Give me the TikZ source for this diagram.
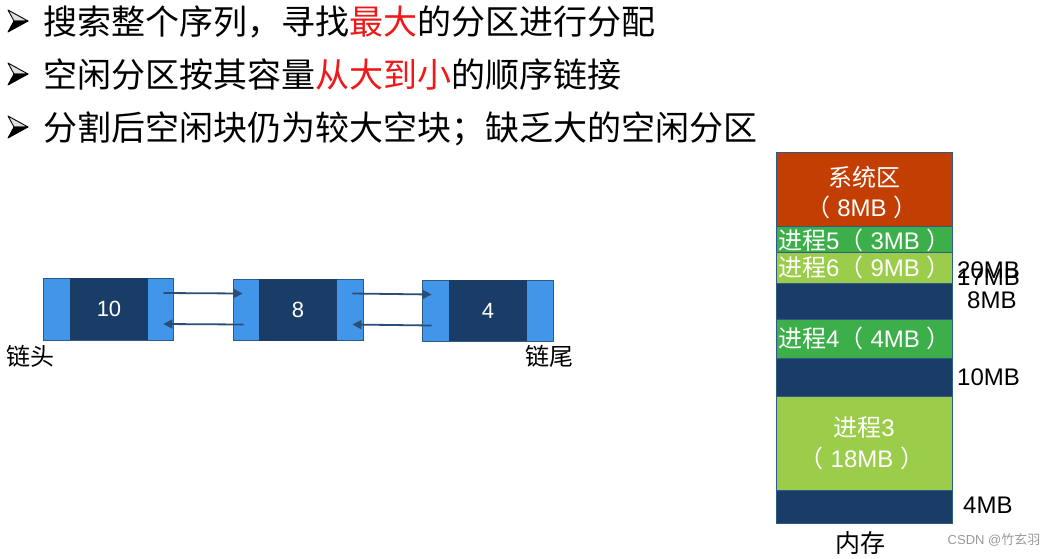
\documentclass[tikz,border=0pt]{standalone}
\usepackage{fontspec}
\setmainfont{Liberation Sans}
\newfontfamily\cjk{Noto Sans CJK SC}
\usetikzlibrary{arrows.meta,calc}
\definecolor{hired}{HTML}{F01818}
\definecolor{lblue}{HTML}{4196EA}
\definecolor{dblue}{HTML}{1A3D68}
\definecolor{bordc}{HTML}{2E5A86}
\definecolor{arrc}{HTML}{2B4E77}
\definecolor{sysred}{HTML}{C23E02}
\definecolor{pgreen}{HTML}{3CAF4A}
\definecolor{lgreen}{HTML}{9BCD4B}
\definecolor{wmgray}{HTML}{9A9A9A}
\newcommand{\lpar}{{\cjk （}\hspace{7pt}}
\newcommand{\rpar}{\hspace{7pt}{\cjk ）}}
\begin{document}
\begin{tikzpicture}[x=1pt,y=-1pt,
  bullettext/.style={font=\cjk\fontsize{34}{40}\selectfont, anchor=base west, inner sep=0pt},
  lbox/.style={draw=bordc, line width=0.8pt, fill=lblue, inner sep=0pt},
  dbox/.style={fill=dblue, inner sep=0pt, text=white, font=\fontsize{22}{26}\selectfont},
  link/.style={draw=arrc, line width=1.8pt, -{Triangle[length=9pt,width=9pt]}},
  chainlabel/.style={font=\cjk\fontsize{24}{28}\selectfont, inner sep=0pt, anchor=west},
  memblk/.style={draw=bordc, line width=0.6pt, inner sep=0pt, anchor=north west},
  memtext/.style={text=white, inner sep=0pt, font=\fontsize{24}{30}\selectfont},
  sizelabel/.style={inner sep=0pt, anchor=west, font=\fontsize{24}{28}\selectfont},
  bulup/.style={fill=black!12, draw=black, line width=0.9pt, line join=round},
  buldown/.style={fill=black, draw=black, line width=0.9pt, line join=round},
]
\useasboundingbox (0,0) rectangle (1059,558);
\fill[white] (0,0) rectangle (1059,558);

% bullets (3-D arrowheads)
\foreach \cy [count=\i] in {21,74,127}{
  \coordinate (bt\i) at (28,\cy);
  \coordinate (bn\i) at (14,\cy);
  \coordinate (bu\i) at (8,\cy-11);
  \coordinate (bd\i) at (8,\cy+11);
  \path[bulup] (bu\i) -- (bt\i) -- (bn\i) -- cycle;
  \path[buldown] (bn\i) -- (bt\i) -- (bd\i) -- cycle;
}
\node[bullettext] (l1) at (43,34.5) {搜索整个序列，寻找\textcolor{hired}{最大}的分区进行分配};
\node[bullettext] (l2) at (43,87.5) {空闲分区按其容量\textcolor{hired}{从大到小}的顺序链接};
\node[bullettext] (l3) at (43,140.5) {分割后空闲块仍为较大空块；缺乏大的空闲分区};

% linked list
\node[lbox, minimum width=130pt, minimum height=62pt] (b1) at (108,309) {};
\node[dbox, minimum width=78pt, minimum height=62pt] (d1) at (109,309) {10};
\node[lbox, minimum width=130pt, minimum height=61pt] (b2) at (298,309.5) {};
\node[dbox, minimum width=78pt, minimum height=62pt] (d2) at (298,310) {8};
\node[lbox, minimum width=131pt, minimum height=61pt] (b3) at (487.5,310.5) {};
\node[dbox, minimum width=78pt, minimum height=61pt] (d3) at (488,310.5) {4};

\draw[link] ([xshift=-10pt,yshift=16pt]b1.east) -- ([xshift=10pt,yshift=16pt]b2.west);
\draw[link] ([xshift=11pt,yshift=-15pt]b2.west) -- ([xshift=-10pt,yshift=-15pt]b1.east);
\draw[link] ([xshift=-11pt,yshift=16pt]b2.east) -- ([xshift=10pt,yshift=16pt]b3.west);
\draw[link] ([xshift=10pt,yshift=-15pt]b3.west) -- ([xshift=-11pt,yshift=-15pt]b2.east);

\node[chainlabel] (head) at (6,356) {链头};
\node[chainlabel] (tail) at (525,356) {链尾};

% memory column
\node[memblk, fill=dblue, minimum width=176pt, minimum height=371pt] (mem) at (776,152) {};
\node[memblk, fill=sysred, minimum width=176pt, minimum height=74pt] (sys) at (776,152) {};
\node[memblk, fill=pgreen, minimum width=176pt, minimum height=26pt] (p5) at (776,226) {};
\node[memblk, fill=lgreen, minimum width=176pt, minimum height=31pt] (p6) at (776,252) {};
\node[memblk, fill=pgreen, minimum width=176pt, minimum height=39pt] (p4) at (776,319) {};
\node[memblk, fill=lgreen, minimum width=176pt, minimum height=94pt] (p3) at (776,396) {};

\node[memtext] (syst1) at (864,177) {\cjk 系统区};
\node[memtext] (syst2) at (862,207) {\lpar 8MB\rpar};
\node[memtext, anchor=west] (p5t) at (778,240) {{\cjk 进程}5\lpar 3MB\rpar};
\node[memtext, anchor=west] (p6t) at (778,267) {{\cjk 进程}6\lpar 9MB\rpar};
\node[memtext, anchor=west] (p4t) at (778,338) {{\cjk 进程}4\lpar 4MB\rpar};
\node[memtext] (p3t1) at (864,428) {{\cjk 进程}3};
\node[memtext] (p3t2) at (862,458) {\lpar 18MB\rpar};

\node[sizelabel] (s20) at (957,270) {20MB};
\node[sizelabel] (s17) at (957,277) {17MB};
\node[sizelabel] (s8) at (967,300) {8MB};
\node[sizelabel] (s10) at (957,377) {10MB};
\node[sizelabel] (s4) at (963,505) {4MB};

\node[inner sep=0pt, font=\cjk\fontsize{25}{30}\selectfont] (memlabel) at (860,543) {内存};
\node[inner sep=0pt, text=wmgray, font=\fontsize{13}{16}\selectfont] (wm) at (994,540) {CSDN @{\cjk 竹玄羽}};
\end{tikzpicture}
\end{document}
